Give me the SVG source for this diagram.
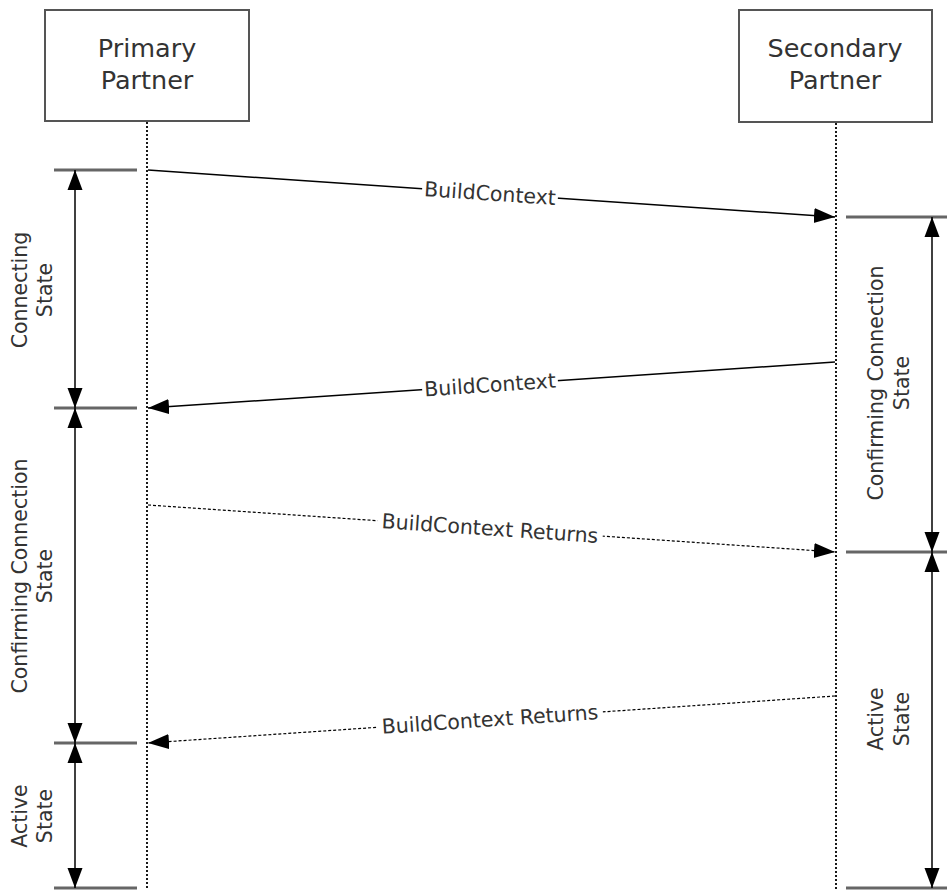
<svg xmlns="http://www.w3.org/2000/svg" width="947" height="890" viewBox="0 0 947 890">
<style>
.box{fill:#fff;stroke:#555;stroke-width:2}
.nt{font-family:"DejaVu Sans",Verdana,sans-serif;font-size:25.5px;fill:#333;text-anchor:middle}
.lt{font-family:"DejaVu Sans",Verdana,sans-serif;font-size:20.5px;fill:#333;text-anchor:middle}
.life{stroke:#000;stroke-width:1.8;stroke-dasharray:2,2;fill:none}
.msg{stroke:#000;stroke-width:1.5;fill:none}
.ret{stroke:#000;stroke-width:1.2;stroke-dasharray:3,2;fill:none}
.tick{stroke:#666;stroke-width:3;fill:none}
.span{stroke:#000;stroke-width:1.5;fill:none}
.bg{fill:#fff}
</style>
<defs>
<marker id="ah" markerUnits="userSpaceOnUse" markerWidth="22" markerHeight="16" refX="21" refY="8" orient="auto">
<path d="M0,0.5 L21,8 L0,15.5 Z" fill="#000"/>
</marker>
<marker id="sh" markerUnits="userSpaceOnUse" markerWidth="20" markerHeight="16" refX="20" refY="8" orient="auto-start-reverse">
<path d="M0,0.5 L20,8 L0,15.5 Z" fill="#000"/>
</marker>
</defs>

<g id="primary">
<rect class="box" x="45" y="10" width="204" height="111"/>
<text class="nt" x="147" y="57">Primary</text>
<text class="nt" x="147" y="89">Partner</text>
<line class="life" x1="147" y1="122" x2="147" y2="890"/>
</g>

<g id="secondary">
<rect class="box" x="739" y="10" width="193" height="112"/>
<text class="nt" x="835" y="57">Secondary</text>
<text class="nt" x="835" y="89">Partner</text>
<line class="life" x1="836" y1="123" x2="836" y2="890"/>
</g>

<g id="connectors">
<line class="msg" x1="148" y1="170" x2="835" y2="217" marker-end="url(#ah)"/>
<line class="msg" x1="835" y1="362" x2="148" y2="408" marker-end="url(#ah)"/>
<line class="ret" x1="148" y1="505" x2="835" y2="552" marker-end="url(#ah)"/>
<line class="ret" x1="835" y1="696" x2="148" y2="743" marker-end="url(#ah)"/>
</g>

<g id="msg-labels">
<g transform="translate(490,193.5) rotate(3.9)">
<rect class="bg" x="-68" y="-11" width="136" height="22"/>
<text class="lt" x="0" y="7">BuildContext</text>
</g>
<g transform="translate(490,385) rotate(-3.85)">
<rect class="bg" x="-68" y="-11" width="136" height="22"/>
<text class="lt" x="0" y="7">BuildContext</text>
</g>
<g transform="translate(490,528.5) rotate(3.9)">
<rect class="bg" x="-113" y="-11" width="226" height="22"/>
<text class="lt" x="0" y="7">BuildContext Returns</text>
</g>
<g transform="translate(490,719.5) rotate(-3.9)">
<rect class="bg" x="-113" y="-11" width="226" height="22"/>
<text class="lt" x="0" y="7">BuildContext Returns</text>
</g>
</g>

<g id="left-states">
<line class="tick" x1="54" y1="170" x2="137" y2="170"/>
<line class="tick" x1="54" y1="408" x2="137" y2="408"/>
<line class="tick" x1="54" y1="743" x2="137" y2="743"/>
<line class="tick" x1="54" y1="888" x2="137" y2="888" stroke="#888"/>
<line class="span" x1="75" y1="170" x2="75" y2="408" marker-start="url(#sh)" marker-end="url(#sh)"/>
<line class="span" x1="75" y1="408" x2="75" y2="743" marker-start="url(#sh)" marker-end="url(#sh)"/>
<line class="span" x1="75" y1="743" x2="75" y2="888" marker-start="url(#sh)" marker-end="url(#sh)"/>
<g transform="translate(0,290) rotate(-90)">
<text class="lt" x="0" y="27">Connecting</text>
<text class="lt" x="0" y="52">State</text>
</g>
<g transform="translate(0,576) rotate(-90)">
<text class="lt" x="0" y="27">Confirming Connection</text>
<text class="lt" x="0" y="52">State</text>
</g>
<g transform="translate(0,816) rotate(-90)">
<text class="lt" x="0" y="27">Active</text>
<text class="lt" x="0" y="52">State</text>
</g>
</g>

<g id="right-states">
<line class="tick" x1="846" y1="217" x2="947" y2="217"/>
<line class="tick" x1="846" y1="552" x2="947" y2="552"/>
<line class="tick" x1="846" y1="888" x2="947" y2="888" stroke="#888"/>
<line class="span" x1="932" y1="217" x2="932" y2="552" marker-start="url(#sh)" marker-end="url(#sh)"/>
<line class="span" x1="932" y1="552" x2="932" y2="888" marker-start="url(#sh)" marker-end="url(#sh)"/>
<g transform="translate(0,383) rotate(-90)">
<text class="lt" x="0" y="883">Confirming Connection</text>
<text class="lt" x="0" y="909">State</text>
</g>
<g transform="translate(0,719) rotate(-90)">
<text class="lt" x="0" y="883">Active</text>
<text class="lt" x="0" y="909">State</text>
</g>
</g>
</svg>
